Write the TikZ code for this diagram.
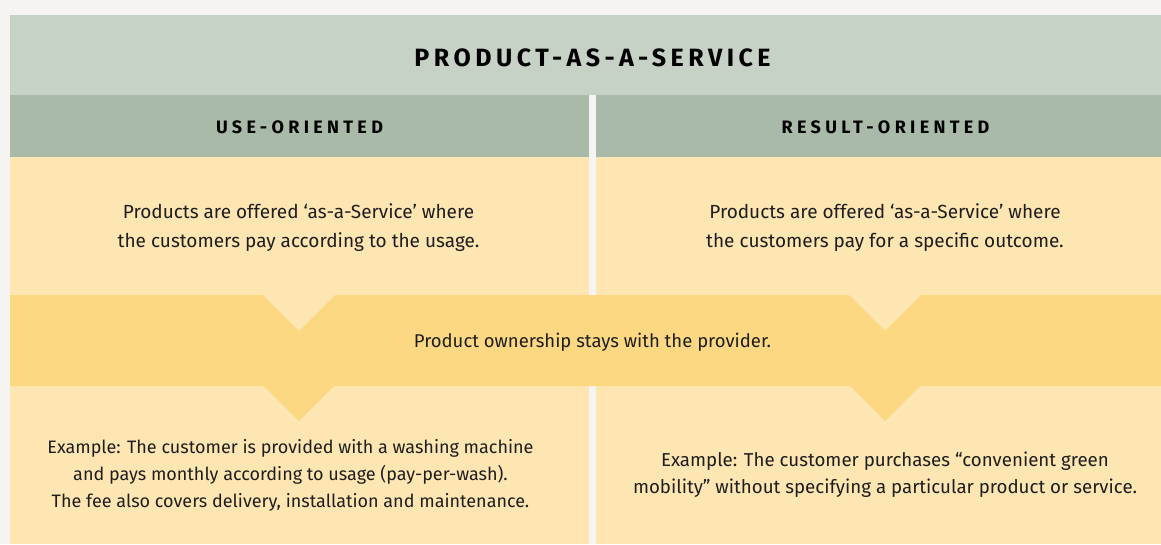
\documentclass[tikz,border=0pt]{standalone}
\usepackage{fontspec}
\setmainfont{Fira Sans}
\newfontfamily\titlefont[LetterSpace=18]{Fira Sans}
\newfontfamily\headfont[LetterSpace=24]{Fira Sans}
\definecolor{bgc}{HTML}{F5F4F2}
\definecolor{titlec}{HTML}{C7D2C6}
\definecolor{headc}{HTML}{A9BBA8}
\definecolor{creamc}{HTML}{FEE6B3}
\definecolor{bandc}{HTML}{FDD883}
\definecolor{inkc}{HTML}{1E1E1E}
\tikzset{
  bodytext/.style={anchor=base, align=center, inner sep=0pt, text=inkc,
    font=\fontsize{19}{28.5}\selectfont},
  ownertext/.style={bodytext, font=\fontsize{18.5}{28}\selectfont},
  exampletext/.style={bodytext, font=\fontsize{18}{27}\selectfont},
  titletext/.style={anchor=base, inner sep=0pt, text=black,
    font=\titlefont\bfseries\fontsize{25}{30}\selectfont},
  headtext/.style={anchor=base, inner sep=0pt, text=black,
    font=\headfont\bfseries\fontsize{18}{22}\selectfont},
}
\begin{document}
\begin{tikzpicture}[x=1pt,y=-1pt]
\useasboundingbox (0,0) rectangle (1161,544);
\fill[bgc] (0,0) rectangle (1161,544);
\begin{scope}
\clip (0,0) rectangle (1161,544);
\fill[titlec] (10,15) rectangle (1175,95);
\fill[headc] (10,95) rectangle (589,157);
\fill[headc] (596,95) rectangle (1175,157);
\fill[creamc] (10,157) rectangle (589,544);
\fill[creamc] (596,157) rectangle (1175,544);
\fill[bandc] (10,295) -- (263,295) -- (299,331) -- (335,295) -- (849,295)
  -- (885,331) -- (921,295) -- (1175,295) -- (1175,386) -- (920,386)
  -- (885,421) -- (850,386) -- (334,386) -- (299,421) -- (264,386)
  -- (10,386) -- cycle;
\end{scope}
\node[titletext] (title) at (592.5,66) {PRODUCT-AS-A-SERVICE};
\node[headtext] (useh) at (299.5,133) {USE-ORIENTED};
\node[headtext] (resh) at (885.5,133) {RESULT-ORIENTED};
\node[bodytext] (usedesc) at (298.5,247) {Products are offered ‘as-a-Service’ where\\the customers pay according to the usage.};
\node[bodytext] (resdesc) at (885,247) {Products are offered ‘as-a-Service’ where\\the customers pay for a specific outcome.};
\node[ownertext] (owner) at (592.5,347) {Product ownership stays with the provider.};
\node[exampletext] (useex) at (290.5,507) {Example: The customer is provided with a washing machine\\and pays monthly according to usage (pay-per-wash).\\The fee also covers delivery, installation and maintenance.};
\node[exampletext, font=\fontsize{18.7}{27}\selectfont] (resex) at (885,493) {Example: The customer purchases “convenient green\\mobility” without specifying a particular product or service.};
\end{tikzpicture}
\end{document}
